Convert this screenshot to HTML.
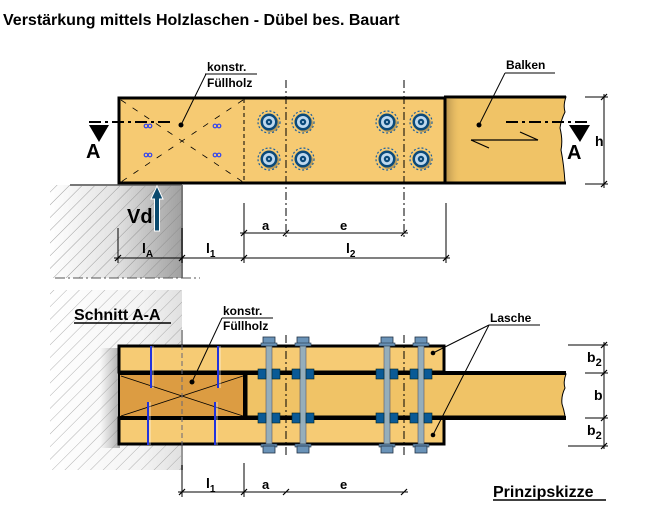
<!DOCTYPE html>
<html><head><meta charset="utf-8"><style>
body{margin:0;background:#fff;width:671px;height:520px;overflow:hidden}
svg{display:block}
text{font-family:"Liberation Sans",Arial,sans-serif;font-weight:bold;fill:#000}
</style></head><body>
<svg width="671" height="520" viewBox="0 0 671 520" xmlns="http://www.w3.org/2000/svg">
<defs>
<pattern id="hatch" width="9" height="9" patternUnits="userSpaceOnUse" patternTransform="rotate(45)">
<line x1="0" y1="0" x2="0" y2="9" stroke="#888" stroke-width="0.8"/></pattern>
<linearGradient id="wallg" x1="0" x2="1" y1="0" y2="0">
<stop offset="0" stop-color="#fff"/><stop offset="0.5" stop-color="#e2e2e2"/><stop offset="1" stop-color="#a0a0a0"/></linearGradient>
<linearGradient id="wallg2" x1="0" x2="1" y1="0" y2="0">
<stop offset="0" stop-color="#fff"/><stop offset="0.7" stop-color="#f4f4f4"/><stop offset="1" stop-color="#e0e0e0"/></linearGradient>
<linearGradient id="shad" x1="0" x2="1"><stop offset="0" stop-color="#888" stop-opacity="0"/><stop offset="1" stop-color="#777" stop-opacity="0.6"/></linearGradient>
<linearGradient id="beamsh" x1="0" x2="1"><stop offset="0" stop-color="#b8944e"/><stop offset="1" stop-color="#f0c468" stop-opacity="0"/></linearGradient>
<g id="bolt">
<circle r="11" fill="none" stroke="#1a5fa0" stroke-width="1.2" stroke-dasharray="2,2"/>
<circle cx="1.5" cy="1.5" r="8.5" fill="#7a6a40" opacity="0.5"/>
<circle r="8.5" fill="#0b4a7a"/>
<circle r="6" fill="#bfd9ee"/>
<circle r="3.2" fill="#0b4a7a"/>
<circle r="1" fill="#bfd9ee"/>
</g>
<g id="nail"><circle cx="-2" r="1.8" fill="none" stroke="#3344ee" stroke-width="1.2"/><circle cx="2" r="1.8" fill="none" stroke="#3344ee" stroke-width="1.2"/></g>
<g id="tick"><line x1="-3" y1="3" x2="3" y2="-3" stroke="#000" stroke-width="1.2"/></g>
<g id="sb">
<rect x="-3" y="342" width="6" height="104" fill="#95aebb" stroke="#556" stroke-width="0.6"/>
<rect x="-6" y="337" width="12" height="7" fill="#6a93b8" stroke="#234" stroke-width="0.8"/>
<rect x="-8" y="343" width="16" height="3" fill="#6a93b8" stroke="#234" stroke-width="0.6"/>
<rect x="-8" y="444" width="16" height="3" fill="#6a93b8" stroke="#234" stroke-width="0.6"/>
<rect x="-6" y="446" width="12" height="7" fill="#6a93b8" stroke="#234" stroke-width="0.8"/>
<rect x="-11" y="369" width="8" height="10" fill="#0a5a96" stroke="#022" stroke-width="0.6"/>
<rect x="3" y="369" width="8" height="10" fill="#0a5a96" stroke="#022" stroke-width="0.6"/>
<rect x="-11" y="413" width="8" height="10" fill="#0a5a96" stroke="#022" stroke-width="0.6"/>
<rect x="3" y="413" width="8" height="10" fill="#0a5a96" stroke="#022" stroke-width="0.6"/>
</g>
</defs>

<text x="3" y="25" font-size="16">Verstärkung mittels Holzlaschen - Dübel bes. Bauart</text>

<rect x="50" y="185" width="132" height="93" fill="url(#wallg)"/>
<rect x="50" y="185" width="132" height="93" fill="url(#hatch)"/>
<line x1="70" y1="185" x2="182" y2="185" stroke="#777" stroke-width="2"/>
<line x1="182" y1="185" x2="182" y2="278" stroke="#777" stroke-width="2"/>
<line x1="55" y1="278" x2="200" y2="278" stroke="#555" stroke-width="1" stroke-dasharray="10,3,2,3"/>

<rect x="50" y="290" width="132" height="180" fill="url(#wallg2)"/>
<rect x="50" y="290" width="132" height="180" fill="url(#hatch)" opacity="0.8"/>
<rect x="100" y="348" width="20" height="100" fill="url(#shad)"/>
<line x1="182" y1="330" x2="182" y2="470" stroke="#999" stroke-width="2"/>

<path d="M444 97 H566 Q563 105 565 112 Q561 120 560 128 Q563 140 561 150 Q564 165 565 183 H444 Z" fill="#f0c366" stroke="#000" stroke-width="1"/>
<rect x="446" y="99" width="16" height="83" fill="url(#beamsh)"/>
<line x1="444" y1="97" x2="566" y2="97" stroke="#000" stroke-width="3"/>
<line x1="444" y1="183" x2="566" y2="183" stroke="#000" stroke-width="3"/>
<rect x="119" y="98" width="326" height="85" fill="#f6ca72" stroke="#000" stroke-width="3"/>
<line x1="244" y1="99" x2="244" y2="182" stroke="#000" stroke-width="1" stroke-dasharray="4,3"/>
<line x1="121" y1="100" x2="243" y2="182" stroke="#000" stroke-width="0.8" stroke-dasharray="6,8"/>
<line x1="243" y1="100" x2="121" y2="182" stroke="#000" stroke-width="0.8" stroke-dasharray="6,8"/>
<use href="#nail" x="148" y="126"/><use href="#nail" x="217" y="126"/>
<use href="#nail" x="148" y="155"/><use href="#nail" x="217" y="155"/>
<use href="#bolt" x="269" y="122"/><use href="#bolt" x="303" y="122"/><use href="#bolt" x="387" y="122"/><use href="#bolt" x="421" y="122"/>
<use href="#bolt" x="269" y="159"/><use href="#bolt" x="303" y="159"/><use href="#bolt" x="387" y="159"/><use href="#bolt" x="421" y="159"/>
<line x1="286" y1="80" x2="286" y2="240" stroke="#000" stroke-width="1" stroke-dasharray="8,3,2,3"/>
<line x1="404" y1="80" x2="404" y2="240" stroke="#000" stroke-width="1" stroke-dasharray="8,3,2,3"/>
<line x1="471" y1="140" x2="538" y2="140" stroke="#000" stroke-width="1.2"/>
<line x1="471" y1="140" x2="489" y2="148" stroke="#000" stroke-width="1.2"/>
<line x1="520" y1="132" x2="538" y2="140" stroke="#000" stroke-width="1.2"/>
<line x1="89" y1="122" x2="173" y2="122" stroke="#000" stroke-width="2" stroke-dasharray="12,4,3,4"/>
<polygon points="89,125 109,125 99,142" fill="#000"/>
<text x="86" y="158" font-size="20">A</text>
<line x1="506" y1="122" x2="590" y2="122" stroke="#000" stroke-width="2" stroke-dasharray="12,4,3,4"/>
<polygon points="569,125 590,125 580,142" fill="#000"/>
<text x="567" y="159" font-size="20">A</text>
<text x="207" y="71" font-size="12">konstr.</text>
<text x="207" y="87" font-size="12">Füllholz</text>
<line x1="205" y1="74" x2="257" y2="74" stroke="#000" stroke-width="1"/>
<line x1="206" y1="74" x2="181" y2="125" stroke="#000" stroke-width="1"/>
<circle cx="181" cy="125" r="2.5" fill="#000"/>
<text x="506" y="69" font-size="12">Balken</text>
<line x1="505" y1="73" x2="555" y2="73" stroke="#000" stroke-width="1"/>
<line x1="505" y1="73" x2="479" y2="125" stroke="#000" stroke-width="1"/>
<circle cx="479" cy="125" r="2.5" fill="#000"/>
<line x1="585" y1="97" x2="608" y2="97" stroke="#000"/>
<line x1="585" y1="184" x2="608" y2="184" stroke="#000"/>
<line x1="604" y1="94" x2="604" y2="188" stroke="#000"/>
<use href="#tick" x="604" y="97"/><use href="#tick" x="604" y="184"/>
<text x="595" y="146" font-size="14">h</text>
<path d="M157 186 L163 199 L159.5 199 L159.5 231 L154.5 231 L154.5 199 L151 199 Z" fill="#0b4a6e" stroke="#fff" stroke-width="1"/>
<text x="127" y="223" font-size="20">Vd</text>
<line x1="244" y1="203" x2="244" y2="263" stroke="#000"/>
<line x1="446" y1="203" x2="446" y2="263" stroke="#000"/>
<line x1="118" y1="228" x2="118" y2="263" stroke="#000"/>
<line x1="182" y1="228" x2="182" y2="263" stroke="#000"/>
<line x1="240" y1="233" x2="408" y2="233" stroke="#000"/>
<use href="#tick" x="244" y="233"/><use href="#tick" x="286" y="233"/><use href="#tick" x="404" y="233"/>
<line x1="114" y1="258" x2="450" y2="258" stroke="#000"/>
<use href="#tick" x="118" y="258"/><use href="#tick" x="182" y="258"/><use href="#tick" x="244" y="258"/><use href="#tick" x="446" y="258"/>
<text x="262" y="230" font-size="13">a</text>
<text x="340" y="230" font-size="13">e</text>
<text x="142" y="253" font-size="14">l<tspan font-size="10" dy="4">A</tspan></text>
<text x="206" y="253" font-size="14">l<tspan font-size="10" dy="4">1</tspan></text>
<text x="346" y="253" font-size="14">l<tspan font-size="10" dy="4">2</tspan></text>

<text x="74" y="320" font-size="16">Schnitt A-A</text>
<line x1="74" y1="323" x2="171" y2="323" stroke="#000" stroke-width="1.5"/>
<path d="M244 374 H566 Q563 382 565 388 Q561 396 562 404 Q564 410 565 416 H244 Z" fill="#f0c366" stroke="#000" stroke-width="1"/>
<rect x="119" y="346" width="325" height="26" fill="#f6cb74" stroke="#000" stroke-width="3"/>
<rect x="119" y="418" width="325" height="26" fill="#f6cb74" stroke="#000" stroke-width="3"/>
<rect x="119" y="374" width="125" height="44" fill="#dc9c42" stroke="#000" stroke-width="2"/>
<line x1="121" y1="376" x2="243" y2="416" stroke="#000" stroke-width="0.8"/>
<line x1="243" y1="376" x2="121" y2="416" stroke="#000" stroke-width="0.8"/>
<line x1="119" y1="373" x2="566" y2="373" stroke="#000" stroke-width="4"/>
<line x1="119" y1="418" x2="566" y2="418" stroke="#000" stroke-width="4"/>
<line x1="246" y1="374" x2="246" y2="417" stroke="#000" stroke-width="3"/>
<line x1="182" y1="345" x2="182" y2="446" stroke="#667" stroke-width="1" stroke-dasharray="5,3"/>
<g stroke="#2233dd" stroke-width="2">
<line x1="151" y1="346" x2="151" y2="388"/><line x1="218" y1="346" x2="218" y2="388"/>
<line x1="148" y1="402" x2="148" y2="445"/><line x1="215" y1="402" x2="215" y2="445"/></g>
<g stroke="#fff" stroke-width="0.6" fill="none">
<line x1="153" y1="346" x2="153" y2="388"/><line x1="220" y1="346" x2="220" y2="388"/>
<line x1="150" y1="402" x2="150" y2="445"/><line x1="217" y1="402" x2="217" y2="445"/></g>
<use href="#sb" x="269"/><use href="#sb" x="303"/><use href="#sb" x="387"/><use href="#sb" x="421"/>
<line x1="286" y1="335" x2="286" y2="455" stroke="#000" stroke-width="1" stroke-dasharray="8,3,2,3"/>
<line x1="404" y1="335" x2="404" y2="455" stroke="#000" stroke-width="1" stroke-dasharray="8,3,2,3"/>
<text x="223" y="315" font-size="12">konstr.</text>
<text x="223" y="330" font-size="12">Füllholz</text>
<line x1="222" y1="318" x2="273" y2="318" stroke="#000"/>
<line x1="222" y1="318" x2="192" y2="382" stroke="#000"/>
<circle cx="192" cy="382" r="2.5" fill="#000"/>
<text x="490" y="322" font-size="12">Lasche</text>
<line x1="489" y1="325" x2="540" y2="325" stroke="#000"/>
<line x1="489" y1="325" x2="433" y2="353" stroke="#000"/>
<line x1="489" y1="325" x2="433" y2="435" stroke="#000"/>
<circle cx="433" cy="353" r="2.3" fill="#000"/>
<circle cx="433" cy="435" r="2.3" fill="#000"/>
<line x1="568" y1="345" x2="608" y2="345" stroke="#000"/>
<line x1="585" y1="373" x2="608" y2="373" stroke="#000"/>
<line x1="585" y1="418" x2="608" y2="418" stroke="#000"/>
<line x1="568" y1="446" x2="608" y2="446" stroke="#000"/>
<line x1="604" y1="342" x2="604" y2="449" stroke="#000"/>
<use href="#tick" x="604" y="345"/><use href="#tick" x="604" y="373"/><use href="#tick" x="604" y="418"/><use href="#tick" x="604" y="446"/>
<text x="587" y="362" font-size="14">b<tspan font-size="11" dy="4">2</tspan></text>
<text x="594" y="400" font-size="14">b</text>
<text x="587" y="435" font-size="14">b<tspan font-size="11" dy="4">2</tspan></text>
<line x1="182" y1="465" x2="182" y2="497" stroke="#000"/>
<line x1="244" y1="463" x2="244" y2="497" stroke="#000"/>
<line x1="178" y1="492" x2="408" y2="492" stroke="#000"/>
<use href="#tick" x="182" y="492"/><use href="#tick" x="244" y="492"/><use href="#tick" x="286" y="492"/><use href="#tick" x="404" y="492"/>
<text x="206" y="488" font-size="14">l<tspan font-size="10" dy="4">1</tspan></text>
<text x="262" y="489" font-size="13">a</text>
<text x="340" y="489" font-size="13">e</text>
<text x="493" y="497" font-size="16">Prinzipskizze</text>
<line x1="493" y1="500" x2="606" y2="500" stroke="#000" stroke-width="1.5"/>
</svg>
</body></html>
